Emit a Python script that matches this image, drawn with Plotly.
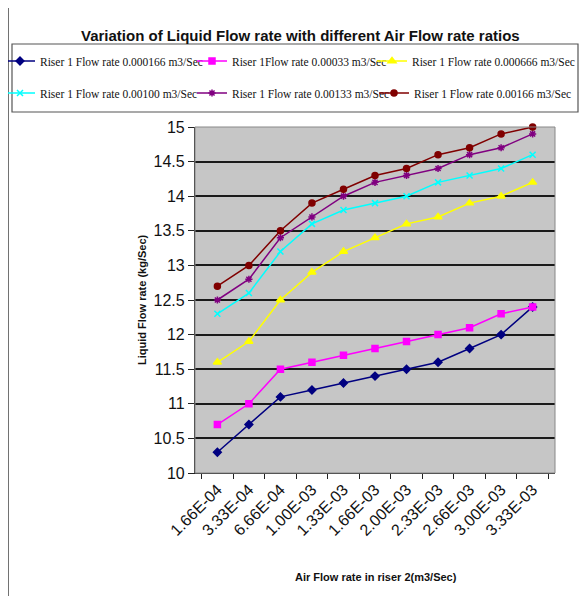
import plotly.graph_objects as go

categories = ["1.66E-04", "3.33E-04", "6.66E-04", "1.00E-03", "1.33E-03", "1.66E-03",
              "2.00E-03", "2.33E-03", "2.66E-03", "3.00E-03", "3.33E-03"]

s1 = [10.3, 10.7, 11.1, 11.2, 11.3, 11.4, 11.5, 11.6, 11.8, 12.0, 12.4]
s2 = [10.7, 11.0, 11.5, 11.6, 11.7, 11.8, 11.9, 12.0, 12.1, 12.3, 12.4]
s3 = [11.6, 11.9, 12.5, 12.9, 13.2, 13.4, 13.6, 13.7, 13.9, 14.0, 14.2]
s4 = [12.3, 12.6, 13.2, 13.6, 13.8, 13.9, 14.0, 14.2, 14.3, 14.4, 14.6]
s5 = [12.5, 12.8, 13.4, 13.7, 14.0, 14.2, 14.3, 14.4, 14.6, 14.7, 14.9]
s6 = [12.7, 13.0, 13.5, 13.9, 14.1, 14.3, 14.4, 14.6, 14.7, 14.9, 15.0]

names = ["Riser 1 Flow rate 0.000166 m3/Sec", "Riser 1Flow rate 0.00033 m3/Sec",
         "Riser 1 Flow rate 0.000666 m3/Sec", "Riser 1 Flow rate 0.00100 m3/Sec",
         "Riser 1 Flow rate 0.00133 m3/Sec", "Riser 1 Flow rate 0.00166 m3/Sec"]

# page has an 8px body margin; the figure div is limited to the body width
O = 8
W, H = 587 - 2 * O, 604 - 2 * O
L, R, T, B = 195, 555, 127, 473   # plot area in screen px
pw, ph = R - L, B - T

def px(x):
    return (x - L) / pw

def py(y):
    return (B - y) / ph

series = [s1, s2, s3, s4, s5, s6]
colors = ["#000080", "#ff00ff", "#ffff00", "#00ffff", "#800080", "#800000"]
symbols = ["diamond", "square", "triangle-up", "x-thin-open", "asterisk-open", "circle"]
sizes = [6, 6, 7, 6, 6, 6]
legend_ids = ["legend", "legend2", "legend3", "legend4", "legend5", "legend6"]
# legend text start positions (screen px) and row centres
legend_text_x = [40, 232, 412, 40, 232, 414]
legend_row_y = [61, 61, 61, 93, 93, 93]

fig = go.Figure()
for vals, nm, c, sym, sz, lg in zip(series, names, colors, symbols, sizes, legend_ids):
    fig.add_trace(go.Scatter(
        x=categories, y=vals, name=nm, mode="lines+markers",
        line=dict(color=c, width=1.5),
        marker=dict(symbol=sym, size=sz, color=c, line=dict(color=c, width=1.5)),
        cliponaxis=False, legend=lg,
    ))

legend_layout = {}
for lg, tx, ty in zip(legend_ids, legend_text_x, legend_row_y):
    legend_layout[lg] = dict(
        orientation="h", xanchor="left", yanchor="middle",
        x=px(tx - 40), y=py(ty),
        bgcolor="rgba(0,0,0,0)", borderwidth=0,
        font=dict(family="Liberation Serif", size=11.5, color="#111"),
        itemwidth=30,
    )

fig.update_layout(
    width=W, height=H,
    margin=dict(l=L - O, r=W - (R - O), t=T - O, b=H - (B - O), autoexpand=False),
    paper_bgcolor="white", plot_bgcolor="#c6c6c6",
    showlegend=True,
    **legend_layout,
    xaxis=dict(type="category", tickangle=-45, tickson="boundaries",
               ticks="outside", ticklen=5, tickcolor="#222",
               showline=True, linecolor="#222", linewidth=1.2,
               showgrid=False,
               tickfont=dict(family="Arial", size=16, color="#111")),
    yaxis=dict(range=[10, 15], dtick=0.5, tick0=10,
               ticks="outside", ticklen=6, tickcolor="#222",
               showline=True, linecolor="#222", linewidth=1.2,
               showgrid=True, gridcolor="#1a1a1a", gridwidth=1.5,
               zeroline=False,
               tickfont=dict(family="Arial", size=16, color="#111")),
    shapes=[
        dict(type="rect", xref="paper", yref="paper", x0=px(8), x1=px(600), y0=py(6), y1=py(620),
             line=dict(color="#444", width=1.5), layer="below"),
        dict(type="rect", xref="paper", yref="paper", x0=px(12), x1=px(578), y0=py(44), y1=py(112),
             line=dict(color="#555", width=1.2), layer="below"),
        dict(type="rect", xref="paper", yref="paper", x0=0, x1=1, y0=0, y1=1,
             line=dict(color="#888", width=1), layer="above"),
    ],
    annotations=[
        dict(text="<b>Variation of Liquid Flow rate with different Air Flow rate ratios</b>",
             xref="paper", yref="paper", x=px(300), y=py(35), xanchor="center", yanchor="middle",
             showarrow=False, font=dict(family="Arial", size=15, color="#111")),
        dict(text="<b>Liquid Flow rate (kg/Sec)</b>", xref="paper", yref="paper",
             x=px(142), y=py(300), xanchor="center", yanchor="middle", textangle=-90,
             showarrow=False, font=dict(family="Arial", size=11, color="#111")),
        dict(text="<b>Air Flow rate in riser 2(m3/Sec)</b>", xref="paper", yref="paper",
             x=px(376), y=py(577), xanchor="center", yanchor="middle",
             showarrow=False, font=dict(family="Arial", size=11, color="#111")),
    ],
)

fig.write_html("out.html")
